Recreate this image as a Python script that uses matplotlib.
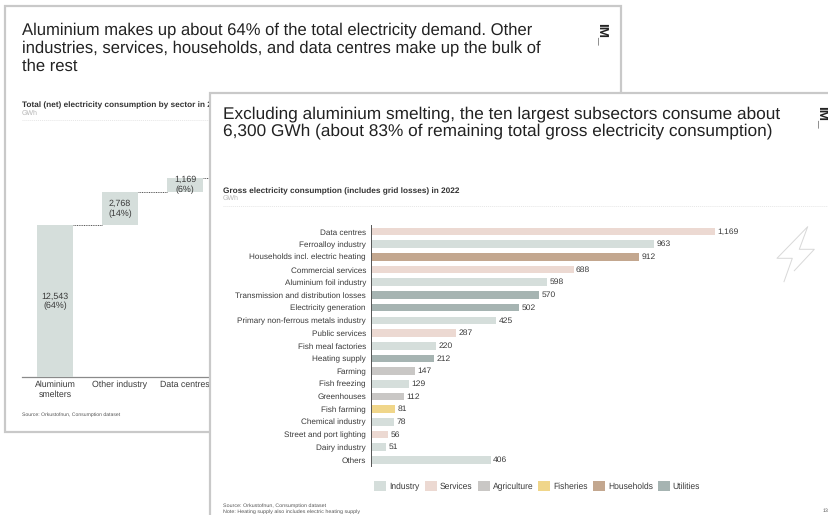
import matplotlib
matplotlib.use("Agg")
import matplotlib.pyplot as plt
from matplotlib.lines import Line2D
from matplotlib.patches import Rectangle

plt.rcParams["font.family"] = ["Liberation Sans", "DejaVu Sans"]
plt.rcParams["text.hinting"] = "no_hinting"

W, H = 829, 515

# Net consumption by sector
sector_names = ["Aluminium\nsmelters", "Other industry", "Data centres"]
sector_values = [12543, 2768, 1169]
sector_shares = ["64%", "14%", "6%"]

# Gross consumption by subsector
sub_names = [
    "Data centres", "Ferroalloy industry", "Households incl. electric heating",
    "Commercial services", "Aluminium foil industry",
    "Transmission and distribution losses", "Electricity generation",
    "Primary non-ferrous metals industry", "Public services",
    "Fish meal factories", "Heating supply", "Farming", "Fish freezing",
    "Greenhouses", "Fish farming", "Chemical industry",
    "Street and port lighting", "Dairy industry", "Others",
]
sub_values = [1169, 963, 912, 688, 598, 570, 502, 425, 287, 220, 212, 147,
              129, 112, 81, 78, 56, 51, 406]
sub_groups = [
    "Services", "Industry", "Households", "Services", "Industry", "Utilities",
    "Utilities", "Industry", "Services", "Industry", "Utilities", "Agriculture",
    "Industry", "Agriculture", "Fisheries", "Industry", "Services", "Industry",
    "Industry",
]
group_names = ["Industry", "Services", "Agriculture", "Fisheries", "Households", "Utilities"]
group_colors = ["#d5dedb", "#ecd9d2", "#c9c7c5", "#f0d68a", "#c3a78f", "#a6b4b2"]
palette = dict(zip(group_names, group_colors))

TEXT = "#3a3a3a"
FRAME = "#c9c9c9"


def fx(x):
    return x / W


def fy(y):
    return 1 - y / H


def axes_px(left, top, right, bottom, z):
    ax = fig.add_axes([fx(left), fy(bottom), (right - left) / W, (bottom - top) / H], zorder=z)
    ax.patch.set_alpha(0)
    return ax


def slide(left, top, right, bottom, z):
    fig.add_artist(Rectangle((fx(left), fy(bottom)), (right - left) / W, (bottom - top) / H,
                             transform=fig.transFigure, facecolor="white",
                             edgecolor=FRAME, linewidth=1.6, zorder=z))


def label(x, y, s, z, **kw):
    kw.setdefault("color", TEXT)
    kw.setdefault("va", "center")
    t = fig.text(fx(x), fy(y), s, **kw)
    t.set_zorder(z)
    return t


def rule(x0, x1, y, z, **kw):
    fig.add_artist(Line2D([fx(x0), fx(x1)], [fy(y), fy(y)], transform=fig.transFigure,
                          zorder=z, **kw))


fig = plt.figure(figsize=(W / 100, H / 100), dpi=100, facecolor="white")

# Back slide: waterfall by sector
slide(5.5, 5.5, 621, 432, 1)
label(22, 48, "Aluminium makes up about 64% of the total electricity demand. Other\n"
              "industries, services, households, and data centres make up the bulk of\n"
              "the rest", 2, fontsize=12.0, color="#222222", linespacing=1.18)
label(22, 105.5, "Total (net) electricity consumption by sector in 2022", 2,
      fontsize=5.95, fontweight="bold", color="#333333")
label(22, 113, "GWh", 2, fontsize=5, color="#b5b5b5")
rule(22, 600, 120, 2, color="#e6e6e6", linewidth=0.7, linestyle=(0, (1, 1)))

ax_w = axes_px(22, 120, 400, 377, 3)
ax_w.set_xlim(22, 400)
ax_w.set_ylim(0, 257 / 0.0121)
ax_w.axis("off")
centers = [55, 120, 185]
bottom = 0
for i, (cx, value, share) in enumerate(zip(centers, sector_values, sector_shares)):
    ax_w.bar(cx, value, width=36.5, bottom=bottom, color="#d5dedb")
    ax_w.text(cx, bottom + value / 2, f"{value:,}\n({share})", ha="center", va="center",
              fontsize=6.4, color=TEXT, linespacing=1.26)
    top = bottom + value
    next_x = centers[i + 1] - 18.25 if i + 1 < len(centers) else cx + 45
    ax_w.plot([cx + 18.25, next_x], [top, top], color="#555555", linewidth=0.7,
              linestyle=(0, (1, 0.8)))
    bottom = top
rule(22, 400, 377, 3, color="#8a8a8a", linewidth=0.9)
for cx, name in zip(centers, sector_names):
    label(cx, 384.7 if "\n" not in name else 389.3, name, 3, ha="center", fontsize=6.3,
          linespacing=1.25, va="center")
label(22, 415, "Source: Orkustofnun, Consumption dataset", 3, fontsize=3.7, color="#555555")

label(595, 34, "IM_", 3, fontsize=9.7, fontweight="bold", rotation=-90, ha="left", color="#222222")

# Front slide: subsector ranking
slide(210.5, 93, 850, 540, 5)
label(223, 122.5, "Excluding aluminium smelting, the ten largest subsectors consume about\n"
                  "6,300 GWh (about 83% of remaining total gross electricity consumption)", 6,
      fontsize=12.4, color="#222222", linespacing=1.14)
label(223, 191, "Gross electricity consumption (includes grid losses) in 2022", 6,
      fontsize=5.95, fontweight="bold", color="#333333")
label(223, 198.5, "GWh", 6, fontsize=5, color="#b5b5b5")
rule(223, 829, 206, 6, color="#e6e6e6", linewidth=0.7, linestyle=(0, (1, 1)))

ax_b = axes_px(371.5, 225.2, 829, 466.3, 7)
ax_b.set_xlim(0, (829 - 371.5) / 0.2938)
ax_b.set_ylim(18.5, -0.5)
ax_b.barh(range(len(sub_values)), sub_values, height=0.6,
          color=[palette[g] for g in sub_groups])
for i, value in enumerate(sub_values):
    ax_b.text(value + 8, i, f"{value:,}", va="center", ha="left", fontsize=6.1, color=TEXT)
ax_b.set_yticks(range(len(sub_names)), sub_names)
ax_b.tick_params(axis="y", length=0, pad=4, labelsize=5.9, labelcolor=TEXT)
ax_b.xaxis.set_visible(False)
for side in ("top", "right", "bottom"):
    ax_b.spines[side].set_visible(False)
ax_b.spines["left"].set_color("#555555")
ax_b.spines["left"].set_linewidth(0.7)

# Legend row beneath the bars
swatch_x = [374, 425, 477.7, 538, 593, 657.7]
for x, name, color in zip(swatch_x, group_names, group_colors):
    fig.add_artist(Rectangle((fx(x), fy(491)), 12 / W, 10 / H, transform=fig.transFigure,
                             facecolor=color, edgecolor="none", zorder=7))
    label(x + 15, 486.7, name, 7, fontsize=6.15)

label(223, 505.7, "Source: Orkustofnun, Consumption dataset", 7, fontsize=3.85, color="#555555")
label(223, 511.2, "Note: Heating supply also includes electric heating supply", 7,
      fontsize=3.85, color="#555555")
label(828, 511, "13", 7, fontsize=3.8, ha="right", color="#555555")
label(815, 117, "IM_", 7, fontsize=9.7, fontweight="bold", rotation=-90, ha="left", color="#222222")

# Faint lightning-bolt ornament
bolt_x = [784, 792.3, 777, 807.7, 799.3, 814.3, 794.3]
bolt_y = [281.7, 258.3, 258.3, 226.7, 249.3, 249.3, 270.7]
fig.add_artist(Line2D([fx(x) for x in bolt_x], [fy(y) for y in bolt_y],
                      transform=fig.transFigure, color="#d8d8d8", linewidth=0.7, zorder=7))

fig.savefig("out.png", dpi=100)
